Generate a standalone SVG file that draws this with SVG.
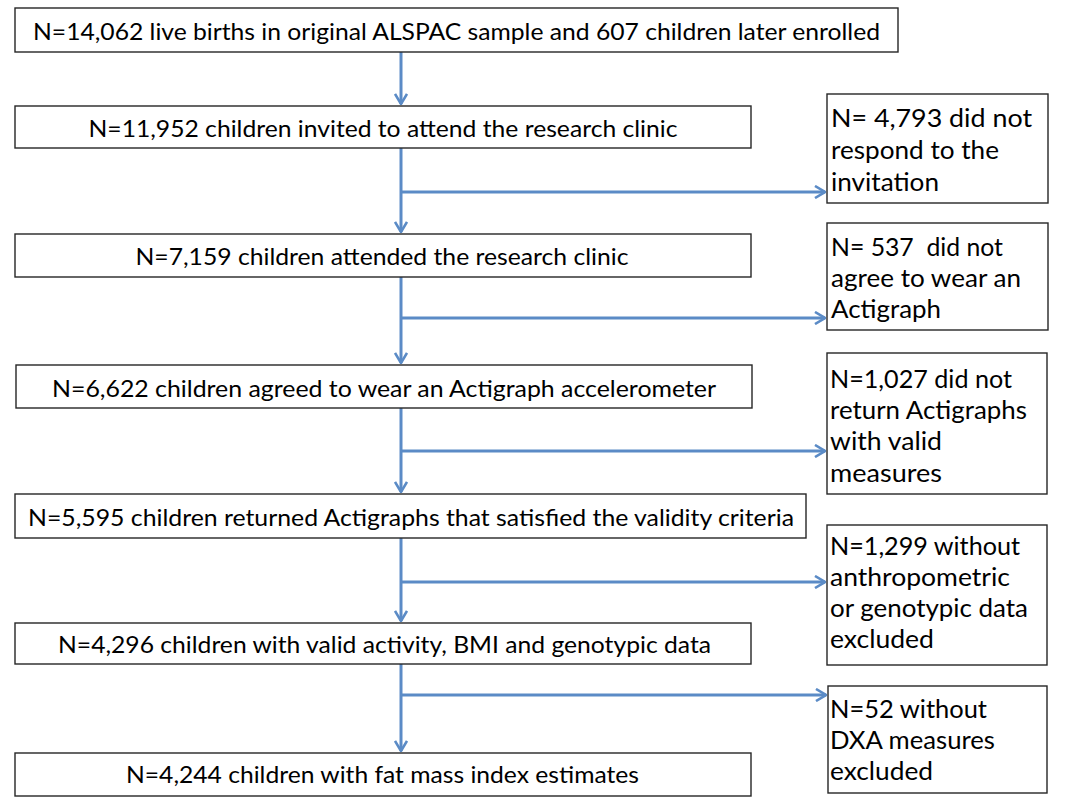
<svg xmlns="http://www.w3.org/2000/svg" width="1066" height="800" viewBox="0 0 1066 800">
<style>
.box{fill:#fff;stroke:#262626;stroke-width:1.4}
.t{font-family:Lato,"Noto Sans","Liberation Sans",sans-serif;font-size:23px;fill:#000}
.r{font-size:25px}
.c{text-anchor:middle}
.ln{fill:none;stroke:#5B8BC6;stroke-width:3}
</style>
<defs>
<marker id="ah" markerUnits="userSpaceOnUse" viewBox="0 0 12 14" markerWidth="12" markerHeight="14" refX="11" refY="7" orient="auto">
<path d="M1,1 L11,7 L1,13" fill="none" stroke="#5B8BC6" stroke-width="2.6"/>
</marker>
</defs>
<rect width="1066" height="800" fill="#fff"/>
<g id="connectors">
<line class="ln" x1="401" y1="52" x2="401" y2="104" marker-end="url(#ah)"/>
<line class="ln" x1="401" y1="148" x2="401" y2="232" marker-end="url(#ah)"/>
<line class="ln" x1="401" y1="192" x2="825" y2="192" marker-end="url(#ah)"/>
<line class="ln" x1="401" y1="277" x2="401" y2="363" marker-end="url(#ah)"/>
<line class="ln" x1="401" y1="318" x2="825" y2="318" marker-end="url(#ah)"/>
<line class="ln" x1="401" y1="408" x2="401" y2="492" marker-end="url(#ah)"/>
<line class="ln" x1="401" y1="451" x2="825" y2="451" marker-end="url(#ah)"/>
<line class="ln" x1="401" y1="538" x2="401" y2="621" marker-end="url(#ah)"/>
<line class="ln" x1="401" y1="582" x2="825" y2="582" marker-end="url(#ah)"/>
<line class="ln" x1="401" y1="664" x2="401" y2="751" marker-end="url(#ah)"/>
<line class="ln" x1="401" y1="695" x2="826" y2="695" marker-end="url(#ah)"/>
</g>
<g id="n1"><rect class="box" x="15" y="8" width="883" height="44"/>
<text class="t c" x="456.5" y="40" textLength="847" lengthAdjust="spacingAndGlyphs">N=14,062 live births in original ALSPAC sample and 607 children later enrolled</text></g>
<g id="n2"><rect class="box" x="15" y="106" width="736" height="42"/>
<text class="t c" x="383" y="137" textLength="589" lengthAdjust="spacingAndGlyphs">N=11,952 children invited to attend the research clinic</text></g>
<g id="n3"><rect class="box" x="15" y="234" width="736" height="43"/>
<text class="t c" x="382" y="265" textLength="493" lengthAdjust="spacingAndGlyphs">N=7,159 children attended the research clinic</text></g>
<g id="n4"><rect class="box" x="16" y="365" width="736" height="43"/>
<text class="t c" x="384" y="397" textLength="664" lengthAdjust="spacingAndGlyphs">N=6,622 children agreed to wear an Actigraph accelerometer</text></g>
<g id="n5"><rect class="box" x="15" y="494" width="791" height="44"/>
<text class="t c" x="411" y="526" textLength="766" lengthAdjust="spacingAndGlyphs">N=5,595 children returned Actigraphs that satisfied the validity criteria</text></g>
<g id="n6"><rect class="box" x="15" y="623" width="736" height="41"/>
<text class="t c" x="384.5" y="653" textLength="653" lengthAdjust="spacingAndGlyphs">N=4,296 children with valid activity, BMI and genotypic data</text></g>
<g id="n7"><rect class="box" x="15" y="753" width="736" height="43"/>
<text class="t c" x="382.5" y="783" textLength="513" lengthAdjust="spacingAndGlyphs">N=4,244 children with fat mass index estimates</text></g>
<g id="r1"><rect class="box" x="827" y="94" width="221" height="109"/>
<text class="t r" x="831" y="127" textLength="201" lengthAdjust="spacingAndGlyphs">N= 4,793 did not</text>
<text class="t r" x="831" y="159" textLength="168" lengthAdjust="spacingAndGlyphs">respond to the</text>
<text class="t r" x="831" y="191" textLength="108" lengthAdjust="spacingAndGlyphs">invitation</text></g>
<g id="r2"><rect class="box" x="827" y="223" width="221" height="107"/>
<text class="t r" x="831" y="256" textLength="172" lengthAdjust="spacingAndGlyphs" xml:space="preserve">N= 537  did not</text>
<text class="t r" x="831" y="287" textLength="190" lengthAdjust="spacingAndGlyphs">agree to wear an</text>
<text class="t r" x="831" y="318" textLength="110" lengthAdjust="spacingAndGlyphs">Actigraph</text></g>
<g id="r3"><rect class="box" x="827" y="353" width="220" height="141"/>
<text class="t r" x="830" y="388" textLength="182" lengthAdjust="spacingAndGlyphs">N=1,027 did not</text>
<text class="t r" x="830" y="419" textLength="197" lengthAdjust="spacingAndGlyphs">return Actigraphs</text>
<text class="t r" x="830" y="450" textLength="112" lengthAdjust="spacingAndGlyphs">with valid</text>
<text class="t r" x="830" y="482" textLength="112" lengthAdjust="spacingAndGlyphs">measures</text></g>
<g id="r4"><rect class="box" x="827" y="525" width="220" height="140"/>
<text class="t r" x="830" y="555" textLength="190" lengthAdjust="spacingAndGlyphs">N=1,299 without</text>
<text class="t r" x="830" y="586" textLength="180" lengthAdjust="spacingAndGlyphs">anthropometric</text>
<text class="t r" x="830" y="617" textLength="198" lengthAdjust="spacingAndGlyphs">or genotypic data</text>
<text class="t r" x="830" y="648" textLength="104" lengthAdjust="spacingAndGlyphs">excluded</text></g>
<g id="r5"><rect class="box" x="828" y="686" width="219" height="107"/>
<text class="t r" x="830" y="718" textLength="157" lengthAdjust="spacingAndGlyphs">N=52 without</text>
<text class="t r" x="830" y="749" textLength="165" lengthAdjust="spacingAndGlyphs">DXA measures</text>
<text class="t r" x="830" y="780" textLength="103" lengthAdjust="spacingAndGlyphs">excluded</text></g>
</svg>
